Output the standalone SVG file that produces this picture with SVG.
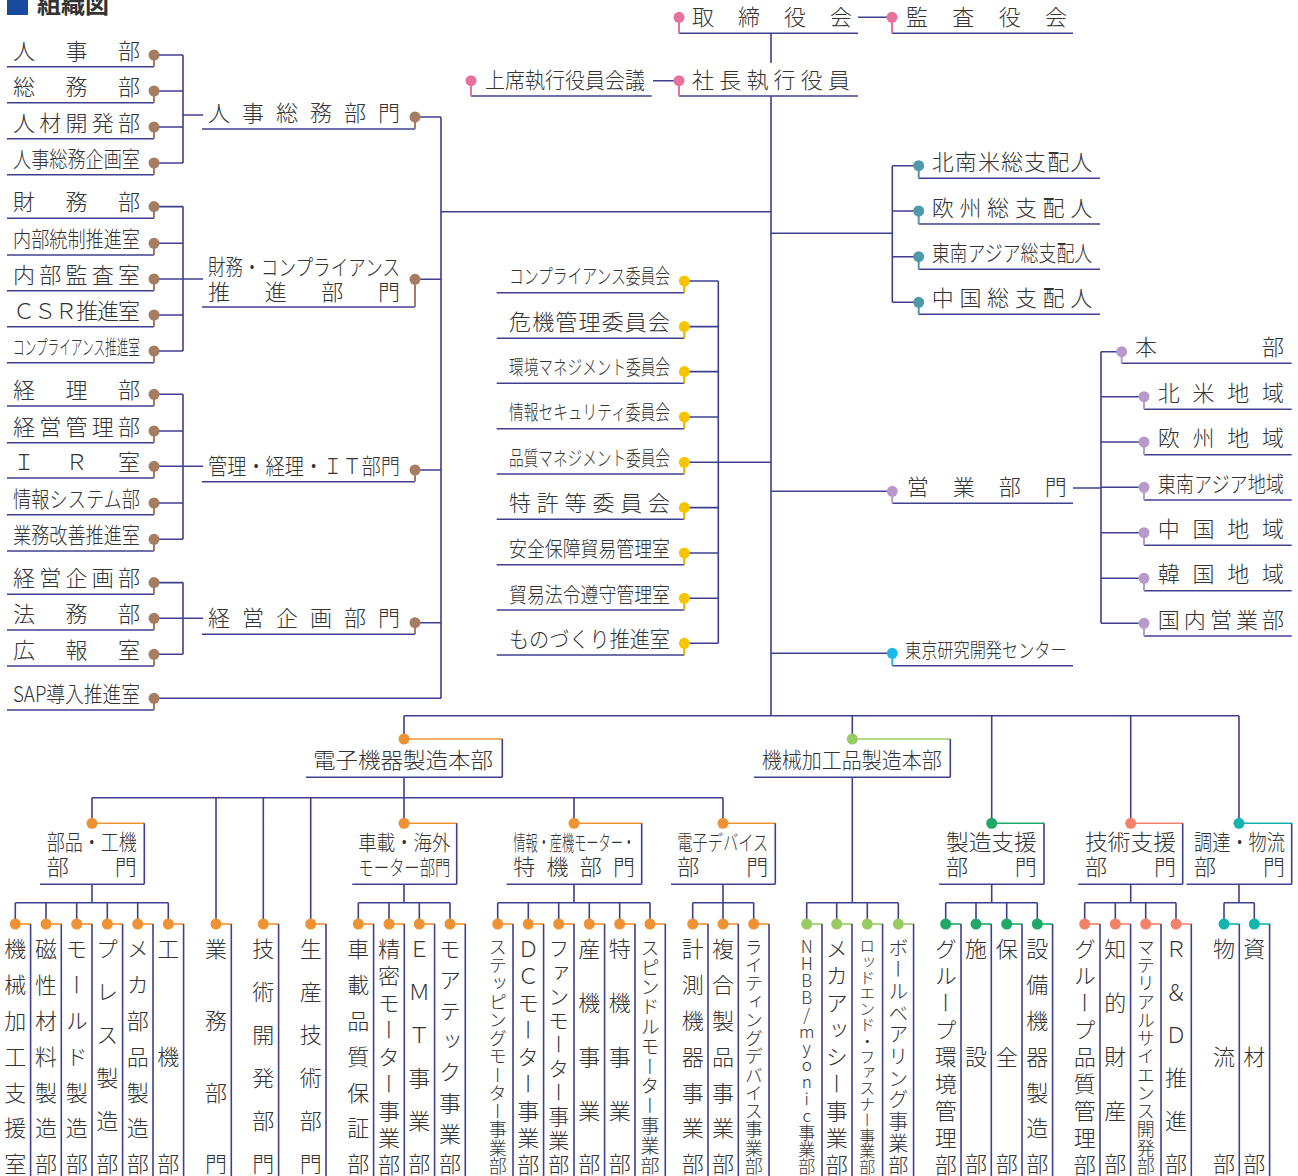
<svg xmlns="http://www.w3.org/2000/svg" width="1298" height="1176" viewBox="0 0 1298 1176">
<style>
.l{stroke:#3f3f8f;stroke-width:1.6;fill:none}
.t{font-family:"Noto Sans CJK JP","Noto Sans",sans-serif;font-size:22px;font-weight:300;fill:#333}
.v{writing-mode:vertical-rl;font-family:"Noto Sans CJK JP","Noto Sans",sans-serif;font-size:22px;font-weight:300;fill:#333}
.cb{fill:#a67c62}.sb{stroke:#a67c62;stroke-width:2;fill:none}
.cp{fill:#e8709c}.sp{stroke:#e8709c;stroke-width:2;fill:none}
.ct{fill:#4f9aa8}.st{stroke:#4f9aa8;stroke-width:2;fill:none}
.cu{fill:#b79ac9}.su{stroke:#b79ac9;stroke-width:2;fill:none}
.cc{fill:#1ab8ea}.sc{stroke:#1ab8ea;stroke-width:2;fill:none}
.cy{fill:#f7c500}.sy{stroke:#dcae00;stroke-width:2;fill:none}
.co{fill:#ef9233}.so{stroke:#ef9233;stroke-width:1.6;fill:none}
.clg{fill:#97cc62}.slg{stroke:#97cc62;stroke-width:1.6;fill:none}
.cg{fill:#1fa866}.sg{stroke:#1fa866;stroke-width:1.6;fill:none}
.cs{fill:#f3826a}.ss{stroke:#f3826a;stroke-width:1.6;fill:none}
.cq{fill:#12b5ad}.sq{stroke:#12b5ad;stroke-width:1.6;fill:none}
</style>

<g id="title">
<rect x="7" y="-6" width="21" height="21" fill="#1a4a9e"/>
<text x="37" y="13" font-family="'Noto Sans CJK JP',sans-serif" font-size="24" font-weight="bold" fill="#333">組織図</text>
</g>

<g id="connectors" class="l">
<path d="M154 55H183M154 91H183M154 127H183M154 163H183M183 55V163M183 115H203"/>
<path d="M154 206.6H183M154 243.3H183M154 279H183M154 315H183M154 351H183M183 206.6V351M183 279H203"/>
<path d="M154 394.3H183M154 431H183M154 466.3H183M154 503H183M154 539.3H183M183 394.3V539.3M183 466.3H203"/>
<path d="M154 582.6H183M154 618.3H183M154 654.3H183M183 582.6V654.3M183 618.3H203"/>
<path d="M154 698.3H441M415 117H441M415 279.3H441M415 470H441M415 622.7H441M441 117V698.3M441 211.7H771"/>
<path d="M858 17.3H892M771 33.3V63M653 80.7H679M771 96V715.7"/>
<path d="M771 233.3H892.3M892.3 165.7V302.3M892.3 165.7H918.7M892.3 211H918.7M892.3 256.7H918.7M892.3 302.3H918.7"/>
<path d="M771 491.3H892.3M1073 488H1101M1101 351.7V623.3M1101 351.7H1121.7M1101 396.7H1144M1101 442H1144M1101 487.3H1144M1101 532.7H1144M1101 578.3H1144M1101 623.3H1144"/>
<path d="M771 653.3H892.3"/>
<path d="M684.3 281H718.3M684.3 326.6H718.3M684.3 371.6H718.3M684.3 417H718.3M684.3 462.3H718.3M684.3 507.6H718.3M684.3 553H718.3M684.3 598.3H718.3M684.3 643.3H718.3M718.3 281V643.3M718.3 462.3H771"/>
<path d="M404 715.7H1239M404 715.7V739M404 777.3V823.3M92 797.7H723M92 797.7V823.3M216 797.7V924M263.3 797.7V924M310.7 797.7V924M574 797.7V823.3M723 797.7V823.3"/>
<path d="M852.3 715.7V739M852.3 777.3V902.7M806.7 902.7H898.3M806.7 902.7V924M836.7 902.7V924M867.3 902.7V924M898.3 902.7V924"/>
<path d="M991.7 715.7V823.3M1130.7 715.7V823.3M1239 715.7V823.3"/>
<path d="M92 884.3V902.7M15.3 902.7H168.3M15.3 902.7V924M46 902.7V924M76.7 902.7V924M107.3 902.7V924M137.7 902.7V924M168.3 902.7V924"/>
<path d="M404 884.3V902.7M358.3 902.7H450M358.3 902.7V924M389 902.7V924M419.3 902.7V924M450 902.7V924"/>
<path d="M574 884.3V902.7M497.7 902.7H650M497.7 902.7V924M528.3 902.7V924M558.7 902.7V924M589.3 902.7V924M619.7 902.7V924M650 902.7V924"/>
<path d="M723 884.3V902.7M692.7 902.7H753.7M692.7 902.7V924M723 902.7V924M753.7 902.7V924"/>
<path d="M991.7 884.3V902.7M945.7 902.7H1037.3M945.7 902.7V924M976 902.7V924M1006.7 902.7V924M1037.3 902.7V924"/>
<path d="M1130.7 884.3V902.7M1084.7 902.7H1176M1084.7 902.7V924M1115.3 902.7V924M1145.7 902.7V924M1176 902.7V924"/>
<path d="M1239 884.3V902.7M1224 902.7H1254.3M1224 902.7V924M1254.3 902.7V924"/>
</g>

<!-- left column items -->
<g id="n-jinji"><text class="t" x="13 65.5 118" y="58.7">人事部</text><path class="l" d="M7 66.7H154"/><path class="sb" d="M154 55V66.7"/><circle class="cb" cx="154" cy="55" r="5.5"/></g>
<g id="n-somu"><text class="t" x="13 65.5 118" y="94.7">総務部</text><path class="l" d="M7 102.7H154"/><path class="sb" d="M154 91V102.7"/><circle class="cb" cx="154" cy="91" r="5.5"/></g>
<g id="n-jinzai"><text class="t" x="13 39.25 65.5 91.75 118" y="130.7">人材開発部</text><path class="l" d="M7 138.7H154"/><path class="sb" d="M154 127V138.7"/><circle class="cb" cx="154" cy="127" r="5.5"/></g>
<g id="n-jinjikikaku"><text class="t" x="13" y="166.7" textLength="127" lengthAdjust="spacingAndGlyphs">人事総務企画室</text><path class="l" d="M7 174.7H154"/><path class="sb" d="M154 163V174.7"/><circle class="cb" cx="154" cy="163" r="5.5"/></g>

<g id="n-zaimu"><text class="t" x="13 65.5 118" y="210.3">財務部</text><path class="l" d="M7 218.3H154"/><path class="sb" d="M154 206.6V218.3"/><circle class="cb" cx="154" cy="206.6" r="5.5"/></g>
<g id="n-naibutosei"><text class="t" x="13" y="247" textLength="127" lengthAdjust="spacingAndGlyphs">内部統制推進室</text><path class="l" d="M7 255H154"/><path class="sb" d="M154 243.3V255"/><circle class="cb" cx="154" cy="243.3" r="5.5"/></g>
<g id="n-naibukansa"><text class="t" x="13 39.25 65.5 91.75 118" y="282.7">内部監査室</text><path class="l" d="M7 290.7H154"/><path class="sb" d="M154 279V290.7"/><circle class="cb" cx="154" cy="279" r="5.5"/></g>
<g id="n-csr"><text class="t" x="13 34 55 76 97 118" y="318.7">ＣＳＲ推進室</text><path class="l" d="M7 326.7H154"/><path class="sb" d="M154 315V326.7"/><circle class="cb" cx="154" cy="315" r="5.5"/></g>
<g id="n-compsuishin"><text class="t" x="13" y="354.7" style="font-size:20px" textLength="127" lengthAdjust="spacingAndGlyphs">コンプライアンス推進室</text><path class="l" d="M7 362.7H154"/><path class="sb" d="M154 351V362.7"/><circle class="cb" cx="154" cy="351" r="5.5"/></g>

<g id="n-keiri"><text class="t" x="13 65.5 118" y="398">経理部</text><path class="l" d="M7 406H154"/><path class="sb" d="M154 394.3V406"/><circle class="cb" cx="154" cy="394.3" r="5.5"/></g>
<g id="n-keieikanri"><text class="t" x="13 39.25 65.5 91.75 118" y="434.7">経営管理部</text><path class="l" d="M7 442.7H154"/><path class="sb" d="M154 431V442.7"/><circle class="cb" cx="154" cy="431" r="5.5"/></g>
<g id="n-ir"><text class="t" x="13 65.5 118" y="470">ＩＲ室</text><path class="l" d="M7 478H154"/><path class="sb" d="M154 466.3V478"/><circle class="cb" cx="154" cy="466.3" r="5.5"/></g>
<g id="n-joho"><text class="t" x="13" y="506.7" textLength="127" lengthAdjust="spacingAndGlyphs">情報システム部</text><path class="l" d="M7 514.7H154"/><path class="sb" d="M154 503V514.7"/><circle class="cb" cx="154" cy="503" r="5.5"/></g>
<g id="n-gyomukaizen"><text class="t" x="13" y="543" textLength="127" lengthAdjust="spacingAndGlyphs">業務改善推進室</text><path class="l" d="M7 551H154"/><path class="sb" d="M154 539.3V551"/><circle class="cb" cx="154" cy="539.3" r="5.5"/></g>

<g id="n-keieikikaku"><text class="t" x="13 39.25 65.5 91.75 118" y="586.3">経営企画部</text><path class="l" d="M7 594.3H154"/><path class="sb" d="M154 582.6V594.3"/><circle class="cb" cx="154" cy="582.6" r="5.5"/></g>
<g id="n-homu"><text class="t" x="13 65.5 118" y="622">法務部</text><path class="l" d="M7 630H154"/><path class="sb" d="M154 618.3V630"/><circle class="cb" cx="154" cy="618.3" r="5.5"/></g>
<g id="n-koho"><text class="t" x="13 65.5 118" y="658">広報室</text><path class="l" d="M7 666H154"/><path class="sb" d="M154 654.3V666"/><circle class="cb" cx="154" cy="654.3" r="5.5"/></g>
<g id="n-sap"><text class="t" x="13" y="702" textLength="127" lengthAdjust="spacingAndGlyphs">SAP導入推進室</text><path class="l" d="M7 710H154"/><path class="sb" d="M154 698.3V710"/><circle class="cb" cx="154" cy="698.3" r="5.5"/></g>

<!-- middle divisions -->
<g id="n-jinjisomubumon"><text class="t" x="208 242 276 310 344 378" y="121">人事総務部門</text><path class="l" d="M202 129H415"/><path class="sb" d="M415 117V129"/><circle class="cb" cx="415" cy="117" r="5.5"/></g>
<g id="n-zaimucomp"><text class="t" x="208" y="275" textLength="192" lengthAdjust="spacingAndGlyphs">財務・コンプライアンス</text><text class="t" x="208 264.7 321.3 378" y="300">推進部門</text><path class="l" d="M202 307H415"/><path class="sb" d="M415 279.3V307"/><circle class="cb" cx="415" cy="279.3" r="5.5"/></g>
<g id="n-kanrikeiri"><text class="t" x="208" y="473.7" textLength="192" lengthAdjust="spacingAndGlyphs">管理・経理・ＩＴ部門</text><path class="l" d="M202 481.7H415"/><path class="sb" d="M415 470V481.7"/><circle class="cb" cx="415" cy="470" r="5.5"/></g>
<g id="n-keieikikakubumon"><text class="t" x="208 242 276 310 344 378" y="626.3">経営企画部門</text><path class="l" d="M202 634.3H415"/><path class="sb" d="M415 622.7V634.3"/><circle class="cb" cx="415" cy="622.7" r="5.5"/></g>

<!-- top -->
<g id="n-torishimariyakukai"><text class="t" x="692 738 784 830" y="25.3">取締役会</text><path class="l" d="M679 33.3H858"/><path class="sp" d="M679 17.3V33.3"/><circle class="cp" cx="679" cy="17.3" r="5.5"/></g>
<g id="n-kansayakukai"><text class="t" x="906 952.3 998.7 1045" y="25.3">監査役会</text><path class="l" d="M892 33.3H1073"/><path class="sp" d="M892 17.3V33.3"/><circle class="cp" cx="892" cy="17.3" r="5.5"/></g>
<g id="n-shacho"><text class="t" x="692 719.2 746.4 773.6 800.8 828" y="88">社長執行役員</text><path class="l" d="M679 96H858"/><path class="sp" d="M679 80.7V96"/><circle class="cp" cx="679" cy="80.7" r="5.5"/></g>
<g id="n-joseki"><text class="t" x="485" y="88" textLength="160" lengthAdjust="spacingAndGlyphs">上席執行役員会議</text><path class="l" d="M471 96H651.7"/><path class="sp" d="M471 80.7V96"/><circle class="cp" cx="471" cy="80.7" r="5.5"/></g>

<!-- regional -->
<g id="n-hokunanbei"><text class="t" x="931.7 954.8 977.9 1001 1024.1 1047.2 1070.3" y="169.8">北南米総支配人</text><path class="l" d="M918.7 178.3H1100"/><path class="st" d="M918.7 165.7V178.3"/><circle class="ct" cx="918.7" cy="165.7" r="5.5"/></g>
<g id="n-oshu"><text class="t" x="931.7 959.4 987.1 1014.9 1042.6 1070.3" y="215.5">欧州総支配人</text><path class="l" d="M918.7 224H1100"/><path class="st" d="M918.7 211V224"/><circle class="ct" cx="918.7" cy="211" r="5.5"/></g>
<g id="n-tonan"><text class="t" x="931.7" y="260.8" textLength="160.6" lengthAdjust="spacingAndGlyphs">東南アジア総支配人</text><path class="l" d="M918.7 269.3H1100"/><path class="st" d="M918.7 256.7V269.3"/><circle class="ct" cx="918.7" cy="256.7" r="5.5"/></g>
<g id="n-chugoku"><text class="t" x="931.7 959.4 987.1 1014.9 1042.6 1070.3" y="305.8">中国総支配人</text><path class="l" d="M918.7 314.3H1100"/><path class="st" d="M918.7 302.3V314.3"/><circle class="ct" cx="918.7" cy="302.3" r="5.5"/></g>

<!-- sales -->
<g id="n-eigyobumon"><text class="t" x="906.7 952.7 998.7 1044.7" y="495">営業部門</text><path class="l" d="M892.3 503.3H1073"/><path class="su" d="M892.3 491.3V503.3"/><circle class="cu" cx="892.3" cy="491.3" r="5.5"/></g>
<g id="n-honbu"><text class="t" x="1135 1262" y="355">本部</text><path class="l" d="M1121.7 363.3H1291.7"/><path class="su" d="M1121.7 351.7V363.3"/><circle class="cu" cx="1121.7" cy="351.7" r="5.5"/></g>
<g id="n-hokubei"><text class="t" x="1157.7 1192.5 1227.2 1262" y="400.8">北米地域</text><path class="l" d="M1144 409.3H1291.7"/><path class="su" d="M1144 396.7V409.3"/><circle class="cu" cx="1144" cy="396.7" r="5.5"/></g>
<g id="n-oshuchiiki"><text class="t" x="1157.7 1192.5 1227.2 1262" y="446.2">欧州地域</text><path class="l" d="M1144 454.7H1291.7"/><path class="su" d="M1144 442V454.7"/><circle class="cu" cx="1144" cy="442" r="5.5"/></g>
<g id="n-tonanchiiki"><text class="t" x="1157.7" y="491.5" textLength="126.3" lengthAdjust="spacingAndGlyphs">東南アジア地域</text><path class="l" d="M1144 500H1291.7"/><path class="su" d="M1144 487.3V500"/><circle class="cu" cx="1144" cy="487.3" r="5.5"/></g>
<g id="n-chugokuchiiki"><text class="t" x="1157.7 1192.5 1227.2 1262" y="536.8">中国地域</text><path class="l" d="M1144 545.3H1291.7"/><path class="su" d="M1144 532.7V545.3"/><circle class="cu" cx="1144" cy="532.7" r="5.5"/></g>
<g id="n-kankoku"><text class="t" x="1157.7 1192.5 1227.2 1262" y="582.2">韓国地域</text><path class="l" d="M1144 590.7H1291.7"/><path class="su" d="M1144 578.3V590.7"/><circle class="cu" cx="1144" cy="578.3" r="5.5"/></g>
<g id="n-kokunai"><text class="t" x="1157.7 1183.8 1209.9 1235.9 1262" y="627.5">国内営業部</text><path class="l" d="M1144 636H1291.7"/><path class="su" d="M1144 623.3V636"/><circle class="cu" cx="1144" cy="623.3" r="5.5"/></g>
<g id="n-tokyo"><text class="t" x="905" y="657.5" style="font-size:20px" textLength="161.7" lengthAdjust="spacingAndGlyphs">東京研究開発センター</text><path class="l" d="M892.3 665.7H1073"/><path class="sc" d="M892.3 653.3V665.7"/><circle class="cc" cx="892.3" cy="653.3" r="5.5"/></g>

<!-- committees -->
<g id="n-compiinkai"><text class="t" x="509" y="284.2" style="font-size:20px" textLength="161" lengthAdjust="spacingAndGlyphs">コンプライアンス委員会</text><path class="l" d="M496.7 292.7H684.3"/><path class="sy" d="M684.3 281V292.7"/><circle class="cy" cx="684.3" cy="281" r="5.5"/></g>
<g id="n-kiki"><text class="t" x="509 532.2 555.3 578.5 601.7 624.8 648" y="329.8">危機管理委員会</text><path class="l" d="M496.7 338.3H684.3"/><path class="sy" d="M684.3 326.6V338.3"/><circle class="cy" cx="684.3" cy="326.6" r="5.5"/></g>
<g id="n-kankyo"><text class="t" x="509" y="374.8" style="font-size:20px" textLength="161" lengthAdjust="spacingAndGlyphs">環境マネジメント委員会</text><path class="l" d="M496.7 383.3H684.3"/><path class="sy" d="M684.3 371.6V383.3"/><circle class="cy" cx="684.3" cy="371.6" r="5.5"/></g>
<g id="n-security"><text class="t" x="509" y="420.2" style="font-size:20px" textLength="161" lengthAdjust="spacingAndGlyphs">情報セキュリティ委員会</text><path class="l" d="M496.7 428.7H684.3"/><path class="sy" d="M684.3 417V428.7"/><circle class="cy" cx="684.3" cy="417" r="5.5"/></g>
<g id="n-hinshitsu"><text class="t" x="509" y="465.5" style="font-size:20px" textLength="161" lengthAdjust="spacingAndGlyphs">品質マネジメント委員会</text><path class="l" d="M496.7 474H684.3"/><path class="sy" d="M684.3 462.3V474"/><circle class="cy" cx="684.3" cy="462.3" r="5.5"/></g>
<g id="n-tokkyo"><text class="t" x="509 536.8 564.6 592.4 620.2 648" y="510.8">特許等委員会</text><path class="l" d="M496.7 519.3H684.3"/><path class="sy" d="M684.3 507.6V519.3"/><circle class="cy" cx="684.3" cy="507.6" r="5.5"/></g>
<g id="n-anzen"><text class="t" x="509" y="556.2" style="font-size:21px" textLength="161" lengthAdjust="spacingAndGlyphs">安全保障貿易管理室</text><path class="l" d="M496.7 564.7H684.3"/><path class="sy" d="M684.3 553V564.7"/><circle class="cy" cx="684.3" cy="553" r="5.5"/></g>
<g id="n-boeki"><text class="t" x="509" y="601.5" style="font-size:21px" textLength="161" lengthAdjust="spacingAndGlyphs">貿易法令遵守管理室</text><path class="l" d="M496.7 610H684.3"/><path class="sy" d="M684.3 598.3V610"/><circle class="cy" cx="684.3" cy="598.3" r="5.5"/></g>
<g id="n-monozukuri"><text class="t" x="509" y="646.5" textLength="161" lengthAdjust="spacingAndGlyphs">ものづくり推進室</text><path class="l" d="M496.7 655H684.3"/><path class="sy" d="M684.3 643.3V655"/><circle class="cy" cx="684.3" cy="643.3" r="5.5"/></g>

<!-- manufacturing headquarters -->
<g id="n-denshihonbu"><path class="so" d="M404 739H502.3"/><path class="l" d="M502.3 739V777.3M306 777.3H502.3"/><circle class="co" cx="404" cy="739" r="5.5"/><text class="t" x="313" y="768" textLength="180" lengthAdjust="spacingAndGlyphs">電子機器製造本部</text></g>
<g id="n-kikaihonbu"><path class="slg" d="M852.3 739H950.3"/><path class="l" d="M950.3 739V777.3M754 777.3H950.3"/><circle class="clg" cx="852.3" cy="739" r="5.5"/><text class="t" x="761.7" y="768" textLength="180" lengthAdjust="spacingAndGlyphs">機械加工品製造本部</text></g>

<g id="n-buhin"><path class="so" d="M92 823.3H144.3"/><path class="l" d="M144.3 823.3V884.3M40 884.3H144.3"/><circle class="co" cx="92" cy="823.3" r="5.5"/><text class="t" x="46.7" y="850" textLength="90" lengthAdjust="spacingAndGlyphs">部品・工機</text><text class="t" x="46.7 114.7" y="875">部門</text></g>
<g id="n-shasai"><path class="so" d="M404 823.3H456.7"/><path class="l" d="M456.7 823.3V884.3M352.3 884.3H456.7"/><circle class="co" cx="404" cy="823.3" r="5.5"/><text class="t" x="358.3" y="850" style="font-size:21px" textLength="92" lengthAdjust="spacingAndGlyphs">車載・海外</text><text class="t" x="358.3" y="875" style="font-size:21px" textLength="92" lengthAdjust="spacingAndGlyphs">モーター部門</text></g>
<g id="n-johosanki"><path class="so" d="M574 823.3H641.7"/><path class="l" d="M641.7 823.3V884.3M506.7 884.3H641.7"/><circle class="co" cx="574" cy="823.3" r="5.5"/><text class="t" x="513.3" y="850" style="font-size:21px" textLength="121.7" lengthAdjust="spacingAndGlyphs">情報・産機モーター・</text><text class="t" x="513.3 546.5 579.8 613" y="875">特機部門</text></g>
<g id="n-denshidevice"><path class="so" d="M723 823.3H775.3"/><path class="l" d="M775.3 823.3V884.3M671 884.3H775.3"/><circle class="co" cx="723" cy="823.3" r="5.5"/><text class="t" x="677.3" y="850" style="font-size:21px" textLength="91" lengthAdjust="spacingAndGlyphs">電子デバイス</text><text class="t" x="677.3 746.3" y="875">部門</text></g>
<g id="n-seizoshien"><path class="sg" d="M991.7 823.3H1044"/><path class="l" d="M1044 823.3V884.3M939 884.3H1044"/><circle class="cg" cx="991.7" cy="823.3" r="5.5"/><text class="t" x="946" y="850" textLength="90.7" lengthAdjust="spacingAndGlyphs">製造支援</text><text class="t" x="946 1014.7" y="875">部門</text></g>
<g id="n-gijutsushien"><path class="ss" d="M1130.7 823.3H1182.7"/><path class="l" d="M1182.7 823.3V884.3M1078.3 884.3H1182.7"/><circle class="cs" cx="1130.7" cy="823.3" r="5.5"/><text class="t" x="1085" y="850" textLength="91" lengthAdjust="spacingAndGlyphs">技術支援</text><text class="t" x="1085 1154" y="875">部門</text></g>
<g id="n-chotatsu"><path class="sq" d="M1239 823.3H1291.7"/><path class="l" d="M1291.7 823.3V884.3M1186.7 884.3H1291.7"/><circle class="cq" cx="1239" cy="823.3" r="5.5"/><text class="t" x="1194" y="850" textLength="91" lengthAdjust="spacingAndGlyphs">調達・物流</text><text class="t" x="1194 1263" y="875">部門</text></g>

<!-- leaves -->
<g id="lf-01"><path class="so" d="M15.3 924H30.6"/><path class="l" d="M30.6 924V1176"/><circle class="co" cx="15.3" cy="924" r="5.5"/><text class="v" x="15.3" y="938" style="letter-spacing:13.8px">機械加工支援室</text></g>
<g id="lf-02"><path class="so" d="M46 924H61.3"/><path class="l" d="M61.3 924V1176"/><circle class="co" cx="46" cy="924" r="5.5"/><text class="v" x="46" y="938" style="letter-spacing:13.8px">磁性材料製造部</text></g>
<g id="lf-03"><path class="so" d="M76.7 924H92"/><path class="l" d="M92 924V1176"/><circle class="co" cx="76.7" cy="924" r="5.5"/><text class="v" x="76.7" y="938" style="letter-spacing:13.8px">モールド製造部</text></g>
<g id="lf-04"><path class="so" d="M107.3 924H122.6"/><path class="l" d="M122.6 924V1176"/><circle class="co" cx="107.3" cy="924" r="5.5"/><text class="v" x="107.3" y="938" style="letter-spacing:21px">プレス製造部</text></g>
<g id="lf-05"><path class="so" d="M137.7 924H153"/><path class="l" d="M153 924V1176"/><circle class="co" cx="137.7" cy="924" r="5.5"/><text class="v" x="137.7" y="938" style="letter-spacing:13.8px">メカ部品製造部</text></g>
<g id="lf-06"><path class="so" d="M168.3 924H183.6"/><path class="l" d="M183.6 924V1176"/><circle class="co" cx="168.3" cy="924" r="5.5"/><text class="v" x="168.3" y="938" style="letter-spacing:85.5px">工機部</text></g>
<g id="lf-07"><path class="so" d="M216 924H231.3"/><path class="l" d="M231.3 924V1176"/><circle class="co" cx="216" cy="924" r="5.5"/><text class="v" x="216" y="938" style="letter-spacing:49.7px">業務部門</text></g>
<g id="lf-08"><path class="so" d="M263.3 924H278.6"/><path class="l" d="M278.6 924V1176"/><circle class="co" cx="263.3" cy="924" r="5.5"/><text class="v" x="263.3" y="938" style="letter-spacing:21px">技術開発部門</text></g>
<g id="lf-09"><path class="so" d="M310.7 924H326"/><path class="l" d="M326 924V1176"/><circle class="co" cx="310.7" cy="924" r="5.5"/><text class="v" x="310.7" y="938" style="letter-spacing:21px">生産技術部門</text></g>
<g id="lf-10"><path class="so" d="M358.3 924H373.6"/><path class="l" d="M373.6 924V1176"/><circle class="co" cx="358.3" cy="924" r="5.5"/><text class="v" x="358.3" y="938" style="letter-spacing:13.8px">車載品質保証部</text></g>
<g id="lf-11"><path class="so" d="M389 924H404.3"/><path class="l" d="M404.3 924V1176"/><circle class="co" cx="389" cy="924" r="5.5"/><text class="v" x="389" y="938" style="letter-spacing:4.9px">精密モーター事業部</text></g>
<g id="lf-12"><path class="so" d="M419.3 924H434.6"/><path class="l" d="M434.6 924V1176"/><circle class="co" cx="419.3" cy="924" r="5.5"/><text class="v" x="419.3" y="938" style="letter-spacing:21px">ＥＭＴ事業部</text></g>
<g id="lf-13"><path class="so" d="M450 924H465.3"/><path class="l" d="M465.3 924V1176"/><circle class="co" cx="450" cy="924" r="5.5"/><text class="v" x="450" y="938" style="letter-spacing:8.7px">モアテック事業部</text></g>
<g id="lf-14"><path class="so" d="M497.7 924H513"/><path class="l" d="M513 924V1176"/><circle class="co" cx="497.7" cy="924" r="5.5"/><text class="v" x="497.7" y="938" style="font-size:18px;letter-spacing:0.25px">ステッピングモーター事業部</text></g>
<g id="lf-15"><path class="so" d="M528.3 924H543.6"/><path class="l" d="M543.6 924V1176"/><circle class="co" cx="528.3" cy="924" r="5.5"/><text class="v" x="528.3" y="938" style="letter-spacing:4.9px">ＤＣモーター事業部</text></g>
<g id="lf-16"><path class="so" d="M558.7 924H574"/><path class="l" d="M574 924V1176"/><circle class="co" cx="558.7" cy="924" r="5.5"/><text class="v" x="558.7" y="938" style="font-size:21px;letter-spacing:3px">ファンモーター事業部</text></g>
<g id="lf-17"><path class="so" d="M589.3 924H604.6"/><path class="l" d="M604.6 924V1176"/><circle class="co" cx="589.3" cy="924" r="5.5"/><text class="v" x="589.3" y="938" style="letter-spacing:31.75px">産機事業部</text></g>
<g id="lf-18"><path class="so" d="M619.7 924H635"/><path class="l" d="M635 924V1176"/><circle class="co" cx="619.7" cy="924" r="5.5"/><text class="v" x="619.7" y="938" style="letter-spacing:31.75px">特機事業部</text></g>
<g id="lf-19"><path class="so" d="M650 924H665.3"/><path class="l" d="M665.3 924V1176"/><circle class="co" cx="650" cy="924" r="5.5"/><text class="v" x="650" y="938" style="font-size:19px;letter-spacing:0.8px">スピンドルモーター事業部</text></g>
<g id="lf-20"><path class="so" d="M692.7 924H708"/><path class="l" d="M708 924V1176"/><circle class="co" cx="692.7" cy="924" r="5.5"/><text class="v" x="692.7" y="938" style="letter-spacing:13.8px">計測機器事業部</text></g>
<g id="lf-21"><path class="so" d="M723 924H738.3"/><path class="l" d="M738.3 924V1176"/><circle class="co" cx="723" cy="924" r="5.5"/><text class="v" x="723" y="938" style="letter-spacing:13.8px">複合製品事業部</text></g>
<g id="lf-22"><path class="so" d="M753.7 924H769"/><path class="l" d="M769 924V1176"/><circle class="co" cx="753.7" cy="924" r="5.5"/><text class="v" x="753.7" y="938" style="font-size:18px;letter-spacing:0.25px">ライティングデバイス事業部</text></g>
<g id="lf-23"><path class="slg" d="M806.7 924H822"/><path class="l" d="M822 924V1176"/><circle class="clg" cx="806.7" cy="924" r="5.5"/><text class="v" x="806.7" y="938 954.9 971.8 988.8 1005.7 1022.6 1039.5 1056.5 1073.4 1090.3 1107.2 1124.2 1141.1 1158" style="font-size:17px;text-orientation:upright">NHBB/myonic事業部</text></g>
<g id="lf-24"><path class="slg" d="M836.7 924H852"/><path class="l" d="M852 924V1176"/><circle class="clg" cx="836.7" cy="924" r="5.5"/><text class="v" x="836.7" y="938" style="letter-spacing:4.9px">メカアッシー事業部</text></g>
<g id="lf-25"><path class="slg" d="M867.3 924H882.6"/><path class="l" d="M882.6 924V1176"/><circle class="clg" cx="867.3" cy="924" r="5.5"/><text class="v" x="867.3" y="938" style="font-size:16px;letter-spacing:-0.2px">ロッドエンド・ファスナー事業部</text></g>
<g id="lf-26"><path class="slg" d="M898.3 924H913.6"/><path class="l" d="M913.6 924V1176"/><circle class="clg" cx="898.3" cy="924" r="5.5"/><text class="v" x="898.3" y="938" style="font-size:20px;letter-spacing:1.7px">ボールベアリング事業部</text></g>
<g id="lf-27"><path class="sg" d="M945.7 924H961"/><path class="l" d="M961 924V1176"/><circle class="cg" cx="945.7" cy="924" r="5.5"/><text class="v" x="945.7" y="938" style="letter-spacing:4.9px">グループ環境管理部</text></g>
<g id="lf-28"><path class="sg" d="M976 924H991.3"/><path class="l" d="M991.3 924V1176"/><circle class="cg" cx="976" cy="924" r="5.5"/><text class="v" x="976" y="938" style="letter-spacing:85.5px">施設部</text></g>
<g id="lf-29"><path class="sg" d="M1006.7 924H1022"/><path class="l" d="M1022 924V1176"/><circle class="cg" cx="1006.7" cy="924" r="5.5"/><text class="v" x="1006.7" y="938" style="letter-spacing:85.5px">保全部</text></g>
<g id="lf-30"><path class="sg" d="M1037.3 924H1052.6"/><path class="l" d="M1052.6 924V1176"/><circle class="cg" cx="1037.3" cy="924" r="5.5"/><text class="v" x="1037.3" y="938" style="letter-spacing:13.8px">設備機器製造部</text></g>
<g id="lf-31"><path class="ss" d="M1084.7 924H1100"/><path class="l" d="M1100 924V1176"/><circle class="cs" cx="1084.7" cy="924" r="5.5"/><text class="v" x="1084.7" y="938" style="letter-spacing:4.9px">グループ品質管理部</text></g>
<g id="lf-32"><path class="ss" d="M1115.3 924H1130.6"/><path class="l" d="M1130.6 924V1176"/><circle class="cs" cx="1115.3" cy="924" r="5.5"/><text class="v" x="1115.3" y="938" style="letter-spacing:31.75px">知的財産部</text></g>
<g id="lf-33"><path class="ss" d="M1145.7 924H1161"/><path class="l" d="M1161 924V1176"/><circle class="cs" cx="1145.7" cy="924" r="5.5"/><text class="v" x="1145.7" y="938" style="font-size:18px;letter-spacing:0.25px">マテリアルサイエンス開発部</text></g>
<g id="lf-34"><path class="ss" d="M1176 924H1191.3"/><path class="l" d="M1191.3 924V1176"/><circle class="cs" cx="1176" cy="924" r="5.5"/><text class="v" x="1176" y="938" style="letter-spacing:21px">Ｒ＆Ｄ推進部</text></g>
<g id="lf-35"><path class="sq" d="M1224 924H1239.3"/><path class="l" d="M1239.3 924V1176"/><circle class="cq" cx="1224" cy="924" r="5.5"/><text class="v" x="1224" y="938" style="letter-spacing:85.5px">物流部</text></g>
<g id="lf-36"><path class="sq" d="M1254.3 924H1269.6"/><path class="l" d="M1269.6 924V1176"/><circle class="cq" cx="1254.3" cy="924" r="5.5"/><text class="v" x="1254.3" y="938" style="letter-spacing:85.5px">資材部</text></g>
</svg>
